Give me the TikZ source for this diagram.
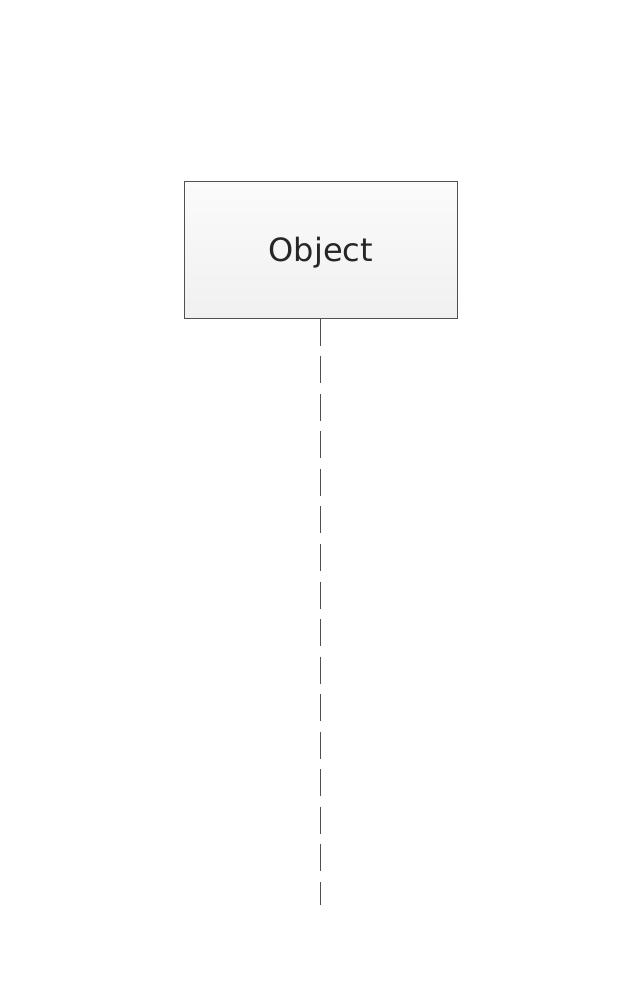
\documentclass[tikz,border=0pt]{standalone}
\usepackage{fontspec}
\setmainfont{DejaVu Sans}
\usepackage{tikz}

\definecolor{edgegray}{HTML}{505050}
\definecolor{boxtop}{HTML}{FBFBFB}
\definecolor{boxbottom}{HTML}{F0F0F0}

\begin{document}
\begin{tikzpicture}[
    objbox/.style={draw=edgegray, line width=0.7pt, top color=boxtop, bottom color=boxbottom,
      minimum width=6.825cm, minimum height=3.425cm, inner sep=0pt, text depth=0pt,
      text=black!85, font=\fontsize{22.8pt}{26pt}\selectfont},
    lifeline/.style={draw=edgegray, line width=0.7pt, dash pattern=on 19.2pt off 7.5pt}
  ]
  \useasboundingbox (0cm, 0cm) rectangle (16cm, 24.55cm);

  \node[objbox] (obj) at (8.02cm, 18.305cm) {Object};
  \coordinate (lifeend) at (8.02cm, 1.925cm);

  \draw[lifeline] (obj.south) -- (lifeend);
\end{tikzpicture}
\end{document}
